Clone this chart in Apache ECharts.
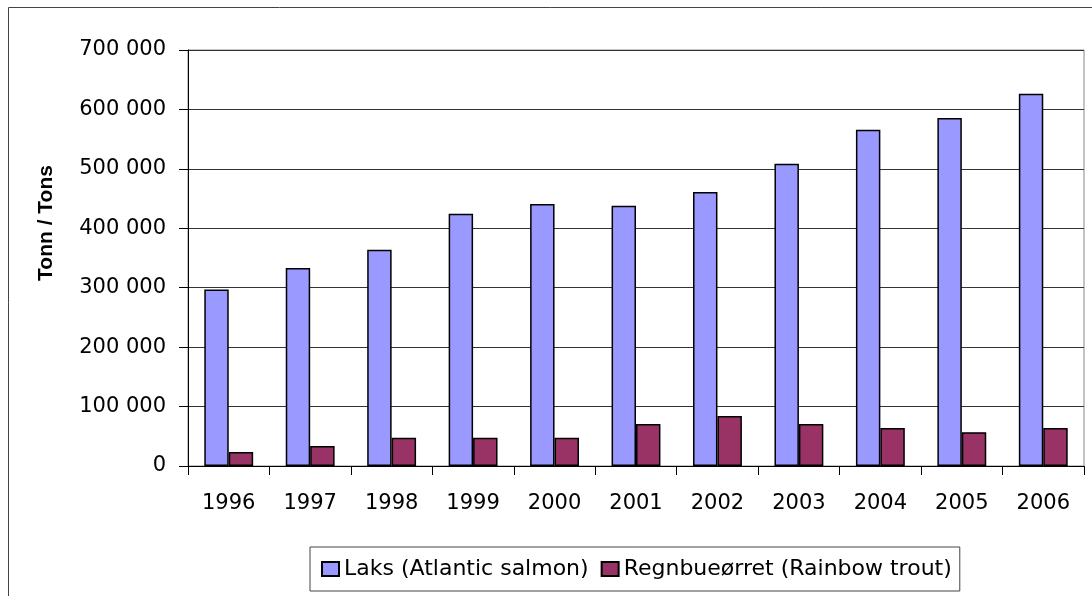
<!DOCTYPE html>
<html>
<head>
<meta charset="utf-8">
<script src="https://cdn.jsdelivr.net/npm/echarts@6/dist/echarts.min.js"></script>
<style>
html,body{margin:0;padding:0;background:#fff;}
#chart{width:1092px;height:596px;}
</style>
</head>
<body>
<div id="chart"></div>
<script>
var categories = ['1996','1997','1998','1999','2000','2001','2002','2003','2004','2005','2006'];
var salmon = [297000, 333000, 364000, 424500, 441000, 438000, 461000, 508500, 566000, 585500, 626500];
var trout = [23500, 33500, 47500, 47500, 47500, 70500, 84000, 70500, 64000, 57000, 64000];
var seriesNames = ['Laks (Atlantic salmon)', 'Regnbueørret (Rainbow trout)'];
var yTitle = 'Tonn / Tons';

var FONT = 'DejaVu Sans';
var chart = echarts.init(document.getElementById('chart'), null, {renderer: 'canvas'});
chart.setOption({
  backgroundColor: '#ffffff',
  animation: false,
  graphic: [
    {type: 'rect', x: 0, y: 0, shape: {x: 8.5, y: 7.5, width: 1100, height: 600},
     style: {fill: 'none', stroke: '#444', lineWidth: 1}, z: -10, silent: true},
    {type: 'text', x: 46, y: 223, rotation: Math.PI / 2,
     style: {text: yTitle, font: 'bold 21px "Liberation Sans"', fill: '#000',
             textAlign: 'center', textVerticalAlign: 'middle'}}
  ],
  grid: {left: 188, right: 8, top: 50, bottom: 130, show: true, borderColor: '#888', borderWidth: 1, containLabel: false},
  legend: {
    data: seriesNames,
    left: 310, top: 547,
    itemWidth: 17, itemHeight: 14, itemGap: 12,
    padding: [11, 8, 11, 11],
    borderColor: '#444', borderWidth: 1,
    textStyle: {fontFamily: FONT, fontSize: 22, color: '#000', padding: [0, 0, 0, 0]},
    icon: 'rect'
  },
  xAxis: {
    type: 'category',
    data: categories,
    axisLine: {lineStyle: {color: '#000', width: 1}},
    axisTick: {show: true, length: 9, lineStyle: {color: '#000'}},
    axisLabel: {fontFamily: FONT, fontSize: 21, color: '#000', margin: 27},
    splitLine: {show: false}
  },
  yAxis: {
    type: 'value',
    min: 0, max: 700000, interval: 100000,
    axisLine: {show: true, lineStyle: {color: '#000', width: 1}},
    axisTick: {show: true, length: 9, lineStyle: {color: '#000'}},
    axisLabel: {fontFamily: FONT, fontSize: 21, color: '#000', margin: 22,
      formatter: function (v) { return String(v).replace(/\B(?=(\d{3})+(?!\d))/g, ' '); }},
    splitLine: {show: true, lineStyle: {color: '#333', width: 1}}
  },
  series: [
    {name: seriesNames[0], type: 'bar', data: salmon, barGap: '0%', barCategoryGap: '40%',
     itemStyle: {color: '#9999FF', borderColor: '#000', borderWidth: 1.5}},
    {name: seriesNames[1], type: 'bar', data: trout,
     itemStyle: {color: '#993366', borderColor: '#000', borderWidth: 1.5}}
  ]
});
</script>
</body>
</html>
